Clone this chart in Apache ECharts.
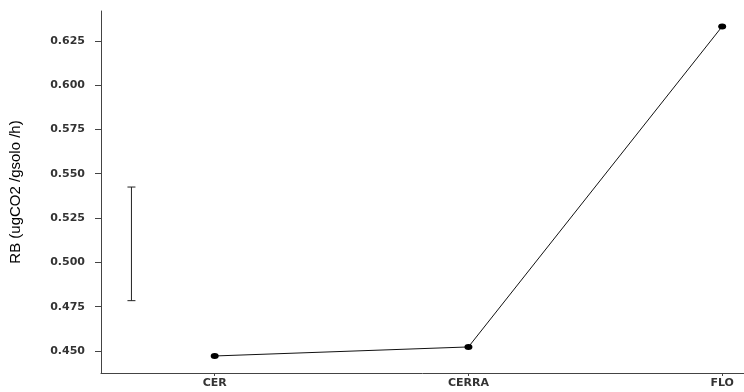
<!DOCTYPE html>
<html>
<head>
<meta charset="utf-8">
<script src="https://cdn.jsdelivr.net/npm/echarts@6/dist/echarts.min.js"></script>
<style>
  html, body { margin: 0; padding: 0; background: #fff; }
  #chart { width: 744px; height: 392px; }
</style>
</head>
<body>
<div id="chart"></div>
<script>
// Soil basal respiration by site
const categories = ['CER', 'CERRA', 'FLO'];
const rbMeans = [0.4472, 0.4523, 0.6331];
const yTicks = [0.450, 0.475, 0.500, 0.525, 0.550, 0.575, 0.600, 0.625];
// Reference interval bar (LSD-style), drawn left of the first site
const errLow = [0.4784];
const errHigh = [0.5425];
const errPos = [0.672];

const chart = echarts.init(document.getElementById('chart'));
const positions = categories.map((c, i) => i + 1);
const tickFont = { fontFamily: 'DejaVu Sans', fontSize: 11, fontWeight: 'bold', color: '#333' };

chart.setOption({
  animation: false,
  grid: { left: 99, right: 0, top: 11, bottom: 19, containLabel: false },
  xAxis: {
    type: 'value',
    min: 0.552,
    max: 3.086,
    splitLine: { show: false },
    axisLine: { show: true, lineStyle: { color: '#444', width: 1 } },
    axisTick: { show: true, length: 3, customValues: positions, lineStyle: { color: '#444' } },
    axisLabel: Object.assign({
      customValues: positions,
      margin: 5,
      formatter: v => categories[Math.round(v) - 1] || ''
    }, tickFont)
  },
  yAxis: {
    type: 'value',
    min: 0.4376,
    max: 0.6418,
    name: 'RB (ugCO2 /gsolo /h)',
    nameLocation: 'middle',
    nameGap: 78,
    nameTextStyle: { fontFamily: 'Liberation Sans', fontSize: 15, color: '#000' },
    splitLine: { show: false },
    axisLine: { show: true, lineStyle: { color: '#444', width: 1 } },
    axisTick: { show: true, length: 6, customValues: yTicks, lineStyle: { color: '#444' } },
    axisLabel: Object.assign({
      customValues: yTicks,
      margin: 16,
      formatter: v => v.toFixed(3)
    }, tickFont)
  },
  series: [
    {
      type: 'line',
      data: positions.map((p, i) => [p, rbMeans[i]]),
      symbol: 'circle',
      symbolSize: [8, 6],
      itemStyle: { color: '#000' },
      lineStyle: { color: '#111', width: 1 }
    },
    {
      type: 'custom',
      data: errPos.map((p, i) => [p, errLow[i], errHigh[i]]),
      renderItem: (params, api) => {
        const lo = api.coord([api.value(0), api.value(1)]);
        const hi = api.coord([api.value(0), api.value(2)]);
        const hw = 4;
        const style = { stroke: '#222', lineWidth: 1 };
        return {
          type: 'group',
          children: [
            { type: 'line', shape: { x1: lo[0], y1: lo[1], x2: hi[0], y2: hi[1] }, style },
            { type: 'line', shape: { x1: lo[0] - hw, y1: lo[1], x2: lo[0] + hw, y2: lo[1] }, style },
            { type: 'line', shape: { x1: hi[0] - hw, y1: hi[1], x2: hi[0] + hw, y2: hi[1] }, style }
          ]
        };
      }
    }
  ]
});
</script>
</body>
</html>
